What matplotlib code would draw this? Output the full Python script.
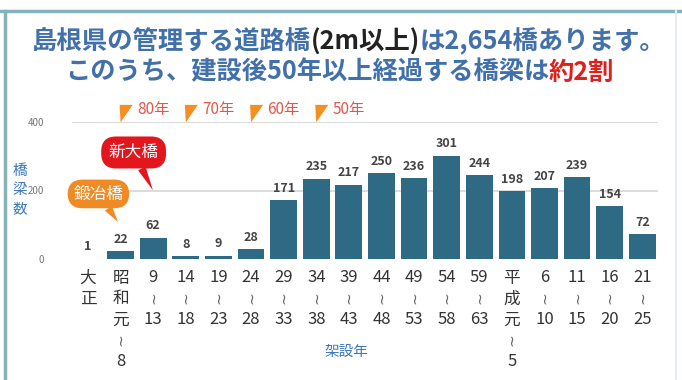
import matplotlib
matplotlib.use('Agg')
import matplotlib.pyplot as plt
import matplotlib.transforms as mtransforms
from matplotlib.patches import Polygon
import numpy as np

plt.rcParams['font.family'] = ['Noto Sans CJK JP', 'DejaVu Sans']

# data
periods = ['大正', '昭和元〜8', '9〜13', '14〜18', '19〜23', '24〜28', '29〜33', '34〜38',
           '39〜43', '44〜48', '49〜53', '54〜58', '59〜63', '平成元〜5', '6〜10',
           '11〜15', '16〜20', '21〜25']
bridges = [1, 22, 62, 8, 9, 28, 171, 235, 217, 250, 236, 301, 244, 198, 207, 239, 154, 72]
age_marks = ['80年', '70年', '60年', '50年']
age_mark_idx = [1, 3, 5, 7]

W, H = 682, 380
fig = plt.figure(figsize=(W / 100, H / 100), dpi=100)
ax = fig.add_axes([72 / W, 1 - 259 / H, (658 - 72) / W, (259 - 122) / H])

bar_col = '#2e6a83'
x = np.arange(len(periods))
ax.bar(x, bridges, width=0.82, color=bar_col, zorder=2)
ax.set_xlim(-0.49, 17.48)
ax.set_ylim(0, 400)

for v in [200, 400]:
    ax.axhline(v, color='#d9d9d9', lw=1.3, zorder=1)

for s in ax.spines.values():
    s.set_visible(False)
ax.set_xticks([])
ax.set_yticks([0, 200, 400])
ax.set_yticklabels(['0', '200', '400'], fontsize=7, color='#777')
ax.tick_params(axis='y', length=0, pad=20)

# value labels
for xi, v in zip(x, bridges):
    ax.annotate(str(v), (xi, v), xytext=(0, 4), textcoords='offset points',
                ha='center', va='bottom', fontsize=9, color='#444', fontweight='bold')

# x tick labels (vertical stacked)
trans = mtransforms.blended_transform_factory(ax.transData, fig.transFigure)
def fy(py):
    return 1 - py / H

lab_col = '#333'
for xi, lab in zip(x, periods):
    if '〜' in lab:
        pre, post = lab.split('〜')
    else:
        pre, post = lab, None
    y = 278
    if pre.isdigit():
        ax.text(xi, fy(y), pre, transform=trans, ha='center', va='center',
                fontsize=12, color=lab_col, clip_on=False)
        last = y
    else:
        for i, ch in enumerate(pre):
            last = y + i * 21
            ax.text(xi, fy(last), ch, transform=trans, ha='center', va='center',
                    fontsize=12, color=lab_col, clip_on=False)
    if post is not None:
        ty = last + 20
        ax.text(xi, fy(ty), '~', transform=trans, ha='center', va='center', rotation=90,
                fontsize=11, color='#666', clip_on=False, family='DejaVu Sans')
        ax.text(xi, fy(ty + 22), post, transform=trans, ha='center', va='center',
                fontsize=12, color=lab_col, clip_on=False)

# axis titles
blue = '#3b78b8'
fig.text(346 / W, fy(352), '架設年', ha='center', va='center', fontsize=10.5, color=blue)
for i, ch in enumerate('橋梁数'):
    fig.text(20 / W, fy(171 + i * 19), ch, ha='center', va='center', fontsize=10.5, color=blue)

# age markers
for idx, lab in zip(age_mark_idx, age_marks):
    tri = Polygon([[idx - 0.03, 450], [idx + 0.37, 450], [idx, 399]], closed=True,
                  facecolor='#f39020', edgecolor='none', clip_on=False, zorder=3)
    ax.add_patch(tri)
    ax.text(idx + 0.5, 437, lab, ha='left', va='center', fontsize=11,
            color='#e4564b', clip_on=False)

# callouts
ax.annotate('新大橋', xy=(1.99, 201), xytext=(1.40, 311), ha='center', va='center',
            fontsize=12, color='white', annotation_clip=False, zorder=5,
            bbox=dict(boxstyle='round,pad=0.45,rounding_size=0.9', fc='#e3151d', ec='none'),
            arrowprops=dict(arrowstyle='wedge,tail_width=0.5', fc='#e3151d', ec='none',
                            shrinkA=0, shrinkB=0))
ax.annotate('鍛冶橋', xy=(0.92, 108), xytext=(0.32, 190), ha='center', va='center',
            fontsize=12, color='white', annotation_clip=False, zorder=5,
            bbox=dict(boxstyle='round,pad=0.35,rounding_size=0.9', fc='#f08a24', ec='none'),
            arrowprops=dict(arrowstyle='wedge,tail_width=0.5', fc='#f08a24', ec='none',
                            shrinkA=0, shrinkB=0))

# title lines with mixed colours
renderer = fig.canvas.get_renderer()
def rich_line(parts, cx, cy, size):
    texts = [fig.text(0, fy(cy), s, color=c, fontsize=size, fontweight='bold',
                      ha='left', va='center') for s, c in parts]
    widths = [t.get_window_extent(renderer).width for t in texts]
    px = cx - sum(widths) / 2
    for t, w in zip(texts, widths):
        t.set_x(px / W)
        px += w

title_col = '#4170aa'
rich_line([('島根県の管理する道路橋', title_col), ('(2m以上)', '#222'),
           ('は2,654橋あります。', title_col)], 348.5, 42, 18.3)
rich_line([('このうち、建設後50年以上経過する橋梁は', title_col), ('約2割', '#e0201c')],
          339.5, 72, 18.2)

# frame
frame_col = '#86b3ba'
fig.add_artist(plt.Line2D([0, 1], [fy(11), fy(11)], transform=fig.transFigure,
                          color=frame_col, lw=2.5))
fig.add_artist(plt.Line2D([4.5 / W, 4.5 / W], [fy(11), 0], transform=fig.transFigure,
                          color=frame_col, lw=2.5))
fig.add_artist(plt.Line2D([676 / W, 676 / W], [fy(11), 0], transform=fig.transFigure,
                          color='#e3eef0', lw=1.5))

fig.savefig('out.png', dpi=100)
